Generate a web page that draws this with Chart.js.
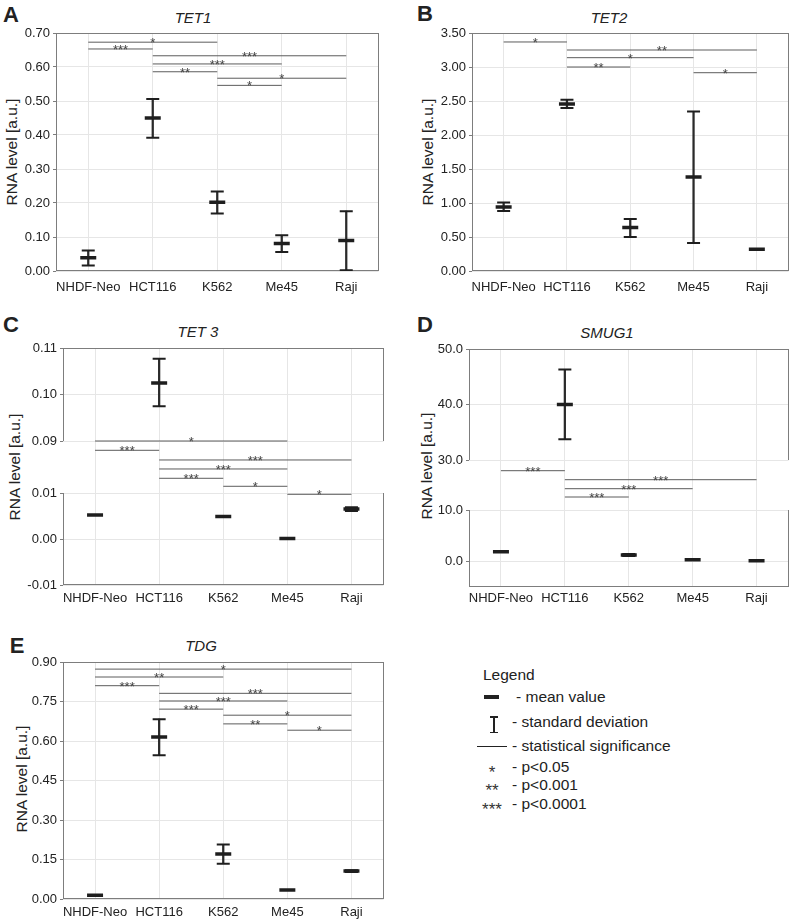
<!DOCTYPE html>
<html><head><meta charset="utf-8">
<script src="https://cdn.jsdelivr.net/npm/chart.js@4.4.1/dist/chart.umd.min.js"></script>
<style>
html,body{margin:0;padding:0;background:#fff}
body{width:800px;height:920px;position:relative;overflow:hidden;font-family:"Liberation Sans",Arial,sans-serif;color:#222}
canvas{position:absolute}
.ttl{position:absolute;transform:translate(-50%,-50%);font-style:italic;font-size:15px;line-height:1;white-space:nowrap}
.let{position:absolute;transform:translate(-50%,-50%);font-weight:bold;font-size:22px;line-height:1}
.yt{position:absolute;transform:translate(-50%,-50%) rotate(-90deg);font-size:15.5px;line-height:1;white-space:nowrap}
.lg{position:absolute;font-size:15.5px;line-height:1;white-space:nowrap;transform:translateY(-50%)}
.st{position:absolute;font-size:17px;line-height:1;white-space:nowrap;transform:translate(-50%,-50%);color:#333}
.sym{position:absolute;background:#222}
</style></head>
<body>
<div class="let" style="left:11px;top:15px">A</div>
<div class="let" style="left:425px;top:14px">B</div>
<div class="let" style="left:11px;top:325px">C</div>
<div class="let" style="left:425px;top:325px">D</div>
<div class="let" style="left:17px;top:646px">E</div>

<div class="ttl" style="left:193px;top:17px">TET1</div>
<div class="ttl" style="left:609px;top:17px">TET2</div>
<div class="ttl" style="left:198px;top:331px">TET 3</div>
<div class="ttl" style="left:607px;top:332px">SMUG1</div>
<div class="ttl" style="left:201px;top:645px">TDG</div>

<div class="yt" style="left:12px;top:152px">RNA level [a.u.]</div>
<div class="yt" style="left:428px;top:152px">RNA level [a.u.]</div>
<div class="yt" style="left:15px;top:467px">RNA level [a.u.]</div>
<div class="yt" style="left:427px;top:466px">RNA level [a.u.]</div>
<div class="yt" style="left:22px;top:779px">RNA level [a.u.]</div>

<canvas id="cA"></canvas>
<canvas id="cB"></canvas>
<canvas id="cC"></canvas>
<canvas id="cD"></canvas>
<canvas id="cE"></canvas>

<!-- Legend -->
<div class="lg" style="left:483px;top:675px">Legend</div>
<div class="sym" style="left:484px;top:695px;width:15px;height:4px"></div>
<div class="lg" style="left:516px;top:697px">- mean value</div>
<div class="sym" style="left:490px;top:716px;width:8px;height:1.5px"></div>
<div class="sym" style="left:493.3px;top:716px;width:1.5px;height:17px"></div>
<div class="sym" style="left:490px;top:731.5px;width:8px;height:1.5px"></div>
<div class="lg" style="left:512px;top:722px">- standard deviation</div>
<div class="sym" style="left:477px;top:745.5px;width:30px;height:1.5px"></div>
<div class="lg" style="left:512px;top:746px">- statistical significance</div>
<div class="st" style="left:492px;top:772px">*</div>
<div class="lg" style="left:512px;top:767px">- p&lt;0.05</div>
<div class="st" style="left:492px;top:790px">**</div>
<div class="lg" style="left:512px;top:785px">- p&lt;0.001</div>
<div class="st" style="left:492px;top:809px">***</div>
<div class="lg" style="left:512px;top:804px">- p&lt;0.0001</div>

<script>
// ---------------- DATA ----------------
const categories = ['NHDF-Neo', 'HCT116', 'K562', 'Me45', 'Raji'];

// A: TET1
const tet1Mean  = [0.039, 0.450, 0.202, 0.081, 0.090];
const tet1Lower = [0.016, 0.392, 0.169, 0.056, 0.002];
const tet1Upper = [0.060, 0.506, 0.234, 0.105, 0.176];
const tet1Ticks = [0, 0.1, 0.2, 0.3, 0.4, 0.5, 0.6, 0.7];
const tet1Sig = [
  ['NHDF-Neo', 'K562', 0.673, '*'],
  ['NHDF-Neo', 'HCT116', 0.653, '***'],
  ['HCT116', 'Raji', 0.633, '***'],
  ['HCT116', 'Me45', 0.609, '***'],
  ['HCT116', 'K562', 0.586, '**'],
  ['K562', 'Raji', 0.567, '*'],
  ['K562', 'Me45', 0.546, '*']
];

// B: TET2
const tet2Mean  = [0.943, 2.455, 0.638, 1.384, 0.319];
const tet2Lower = [0.884, 2.396, 0.501, 0.412, null];
const tet2Upper = [1.006, 2.518, 0.766, 2.347, null];
const tet2Ticks = [0, 0.5, 1.0, 1.5, 2.0, 2.5, 3.0, 3.5];
const tet2Sig = [
  ['NHDF-Neo', 'HCT116', 3.368, '*'],
  ['HCT116', 'Raji', 3.250, '**'],
  ['HCT116', 'Me45', 3.137, '*'],
  ['HCT116', 'K562', 3.000, '**'],
  ['Me45', 'Raji', 2.916, '*']
];

// C: TET 3 (broken axis)
const tet3Mean  = [0.0052, 0.1025, 0.0049, 0.0001, 0.0065];
const tet3Lower = [null, 0.0975, null, null, 0.0061];
const tet3Upper = [null, 0.1077, null, null, 0.0069];
const tet3TicksTop = [0.09, 0.10, 0.11];
const tet3TicksBottom = [-0.01, 0.00, 0.01];
const tet3Sig = [   // level within the axis break (0 = lower part, 1 = upper part)
  ['NHDF-Neo', 'Me45', 1.0, '*'],
  ['NHDF-Neo', 'HCT116', 0.821, '***'],
  ['HCT116', 'Raji', 0.635, '***'],
  ['HCT116', 'Me45', 0.462, '***'],
  ['HCT116', 'K562', 0.283, '***'],
  ['K562', 'Me45', 0.129, '*'],
  ['Me45', 'Raji', -0.025, '*']
];

// D: SMUG1 (broken axis)
const smug1Mean  = [1.85, 40.0, 1.24, 0.33, 0.10];
const smug1Lower = [null, 33.75, 1.05, null, null];
const smug1Upper = [null, 46.30, 1.45, null, null];
const smug1TicksTop = [30, 40, 50];
const smug1TicksBottom = [0, 10];
const smug1Sig = [
  ['NHDF-Neo', 'HCT116', 0.786, '***'],
  ['HCT116', 'Raji', 0.606, '***'],
  ['HCT116', 'Me45', 0.426, '***'],
  ['HCT116', 'K562', 0.260, '***']
];

// E: TDG
const tdgMean  = [0.014, 0.615, 0.171, 0.034, 0.106];
const tdgLower = [null, 0.546, 0.134, null, 0.103];
const tdgUpper = [null, 0.683, 0.207, null, 0.109];
const tdgTicks = [0, 0.15, 0.30, 0.45, 0.60, 0.75, 0.90];
const tdgSig = [
  ['NHDF-Neo', 'Raji', 0.873, '*'],
  ['NHDF-Neo', 'K562', 0.843, '**'],
  ['NHDF-Neo', 'HCT116', 0.810, '***'],
  ['HCT116', 'Raji', 0.781, '***'],
  ['HCT116', 'Me45', 0.752, '***'],
  ['HCT116', 'K562', 0.721, '***'],
  ['K562', 'Raji', 0.698, '*'],
  ['K562', 'Me45', 0.665, '**'],
  ['Me45', 'Raji', 0.641, '*']
];

// ---------------- STYLE ----------------
const FONT = '"Liberation Sans", Arial, sans-serif';
const GRID = '#e6e6e6', FRAME = '#7d7d7d', MARK = '#1e1e1e', SIGC = '#5c5c5c', TXT = '#222';
Chart.defaults.font.family = FONT;
Chart.defaults.animation = false;

const framePlugin = {
  id: 'frame',
  beforeDatasetsDraw(chart, args, opts) {
    const ctx = chart.ctx, a = chart.chartArea;
    const secs = opts.sections.map(id => chart.scales[id]);
    const L = Math.round(a.left) + 0.5, R = Math.round(a.right) - 0.5;
    ctx.save();
    ctx.strokeStyle = FRAME; ctx.lineWidth = 1;
    ctx.beginPath();
    secs.forEach(s => {
      ctx.moveTo(L, s.top); ctx.lineTo(L, s.bottom);
      ctx.moveTo(R, s.top); ctx.lineTo(R, s.bottom);
    });
    ctx.moveTo(L, Math.round(a.top) + 0.5); ctx.lineTo(R, Math.round(a.top) + 0.5);
    ctx.moveTo(L, Math.round(a.bottom) - 0.5); ctx.lineTo(R, Math.round(a.bottom) - 0.5);
    ctx.stroke();
    ctx.restore();
  }
};

const starsPlugin = {
  id: 'stars',
  afterDatasetsDraw(chart) {
    const ctx = chart.ctx;
    chart.data.datasets.forEach((ds, i) => {
      if (!ds.stars) return;
      const pts = chart.getDatasetMeta(i).data;
      if (pts.length < 2) return;
      const x = (pts[0].x + pts[1].x) / 2, y = pts[0].y;
      ctx.save();
      ctx.fillStyle = '#444';
      ctx.font = '13px ' + FONT;
      ctx.textAlign = 'center';
      ctx.textBaseline = 'alphabetic';
      ctx.fillText(ds.stars, x, y + 5);
      ctx.restore();
    });
  }
};

function inSec(v, s) { return v != null && v >= s.min && v <= s.max; }

function makePanel(id, g, sections, gapH, mean, lower, upper, sig, digits) {
  const cv = document.getElementById(id);
  const top = g.plotTop - 12;
  cv.width = g.cw;
  cv.height = g.plotBottom - top + 28;
  cv.style.left = g.cx + 'px';
  cv.style.top = top + 'px';
  const axisW = g.plotLeft - g.cx;
  const padRight = g.cw - (g.plotRight - g.cx);
  const stacked = sections.length > 1;

  const scales = {
    x: {
      type: 'category', offset: true,
      grid: { offset: false, color: GRID, drawTicks: false },
      border: { display: false },
      ticks: { color: TXT, font: { size: 13 }, padding: g.xPad - 0.5, maxRotation: 0, autoSkip: false },
      afterFit: s => { s.height = 28; }
    }
  };
  const datasets = [];
  const secIds = [];
  sections.forEach((sec, k) => {
    const sid = 'y' + k;
    secIds.push(sid);
    const sc = {
      type: 'linear', position: 'left', min: sec.min, max: sec.max,
      grid: { color: GRID, tickColor: FRAME, tickLength: 3 },
      border: { display: false },
      ticks: { color: TXT, font: { size: 13 }, padding: 3, callback: v => Number(v).toFixed(digits) },
      afterBuildTicks: s => { s.ticks = sec.ticks.map(v => ({ value: v })); },
      afterFit: s => { s.width = axisW; }
    };
    if (stacked) {
      sc.stack = 'brk';
      sc.stackWeight = sec.h;
      sc.weight = k === 0 ? 3 : 1;
    }
    scales[sid] = sc;

    const m = mean.map(v => inSec(v, sec) ? v : null);
    const lo = lower.map(v => inSec(v, sec) ? v : null);
    const hi = upper.map((v, i) => lo[i] != null ? v : null);
    datasets.push({
      type: 'line', yAxisID: sid, data: m, showLine: false,
      pointStyle: 'line', pointRadius: 8, pointBorderWidth: 3.5,
      pointBorderColor: MARK, pointBackgroundColor: MARK, borderColor: MARK
    });
    datasets.push({
      type: 'line', yAxisID: sid, data: hi, showLine: false,
      pointStyle: 'line', pointRadius: 6.5, pointBorderWidth: 2,
      pointBorderColor: MARK, borderColor: MARK
    });
    datasets.push({
      type: 'line', yAxisID: sid, data: lo, showLine: false,
      pointStyle: 'line', pointRadius: 6.5, pointBorderWidth: 2,
      pointBorderColor: MARK, borderColor: MARK
    });
    datasets.push({
      type: 'bar', yAxisID: sid, grouped: false, barThickness: 1.6,
      backgroundColor: '#2a2a2a', borderWidth: 0,
      data: lo.map((v, i) => v != null ? [v, hi[i]] : null)
    });
  });
  if (stacked) {
    scales.gap = {
      type: 'linear', position: 'left', min: 0, max: 1,
      stack: 'brk', stackWeight: gapH, weight: 2,
      grid: { display: false }, border: { display: false },
      ticks: { display: false },
      afterFit: s => { s.width = axisW; }
    };
  }
  const sigAxis = stacked ? 'gap' : 'y0';
  sig.forEach(([a, b, y, stars]) => {
    datasets.push({
      type: 'line', yAxisID: sigAxis, stars: stars,
      data: [{ x: a, y: y }, { x: b, y: y }],
      borderColor: SIGC, borderWidth: 1, pointRadius: 0, fill: false, clip: false
    });
  });

  return new Chart(cv, {
    type: 'line',
    data: { labels: categories, datasets },
    options: {
      responsive: false, animation: false, events: [],
      layout: { padding: { top: 12, right: padRight, bottom: 0, left: 0 } },
      scales,
      plugins: { legend: { display: false }, tooltip: { enabled: false }, frame: { sections: secIds } }
    },
    plugins: [framePlugin, starsPlugin]
  });
}

makePanel('cA', { cx: 0, cw: 390, plotLeft: 56, plotTop: 33, plotRight: 379, plotBottom: 271, xPad: 9 },
  [{ min: 0, max: 0.7, ticks: tet1Ticks }], 0, tet1Mean, tet1Lower, tet1Upper, tet1Sig, 2);

makePanel('cB', { cx: 400, cw: 400, plotLeft: 472, plotTop: 33, plotRight: 793, plotBottom: 271, xPad: 9 },
  [{ min: 0, max: 3.5, ticks: tet2Ticks }], 0, tet2Mean, tet2Lower, tet2Upper, tet2Sig, 2);

makePanel('cC', { cx: 0, cw: 395, plotLeft: 63, plotTop: 348, plotRight: 389, plotBottom: 585, xPad: 6.5 },
  [{ min: 0.09, max: 0.11, ticks: tet3TicksTop, h: 93 }, { min: -0.01, max: 0.01, ticks: tet3TicksBottom, h: 92 }],
  52, tet3Mean, tet3Lower, tet3Upper, tet3Sig, 2);

makePanel('cD', { cx: 400, cw: 400, plotLeft: 469, plotTop: 349, plotRight: 796, plotBottom: 587, xPad: 4.5 },
  [{ min: 30, max: 50, ticks: smug1TicksTop, h: 111 }, { min: -5, max: 10, ticks: smug1TicksBottom, h: 77 }],
  50, smug1Mean, smug1Lower, smug1Upper, smug1Sig, 1);

makePanel('cE', { cx: 0, cw: 395, plotLeft: 63, plotTop: 662, plotRight: 390, plotBottom: 899, xPad: 6 },
  [{ min: 0, max: 0.9, ticks: tdgTicks }], 0, tdgMean, tdgLower, tdgUpper, tdgSig, 2);
</script>
</body></html>
